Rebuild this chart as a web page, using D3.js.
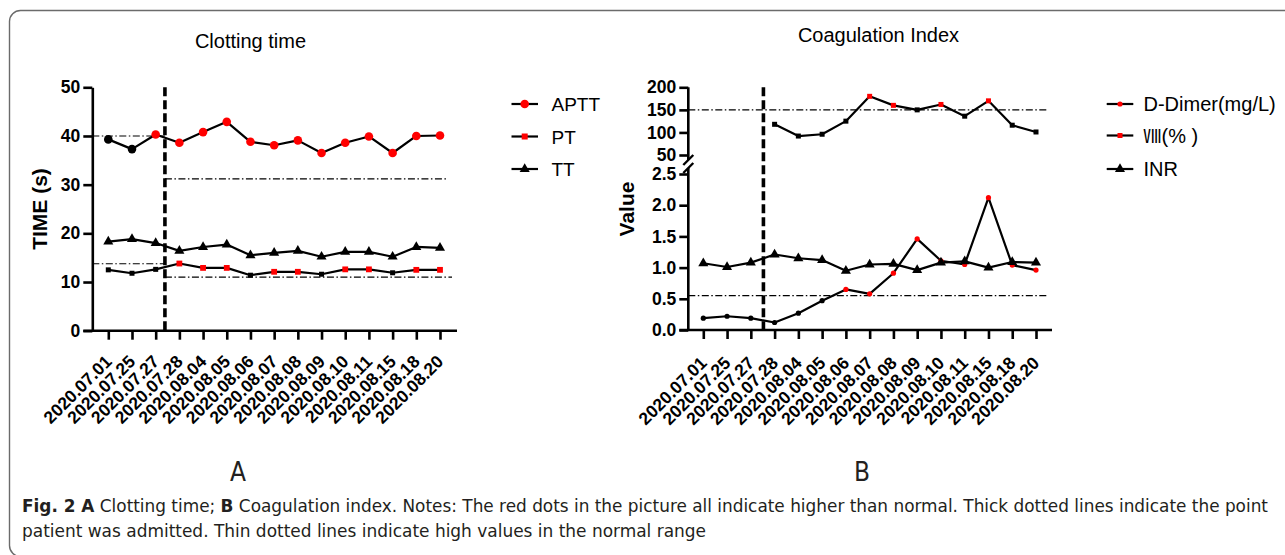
<!DOCTYPE html>
<html><head><meta charset="utf-8">
<script src="https://cdn.jsdelivr.net/npm/d3@7"></script>
<style>body{margin:0;background:#fff;} svg{display:block;}</style>
</head><body><svg id="c" width="1285" height="555"></svg>
<script>
// ---------- data ----------
const dates = ["2020.07.01","2020.07.25","2020.07.27","2020.07.28","2020.08.04","2020.08.05","2020.08.06","2020.08.07","2020.08.08","2020.08.09","2020.08.10","2020.08.11","2020.08.15","2020.08.18","2020.08.20"];
// Panel A
const aptt = [39.3,37.3,40.3,38.6,40.8,42.9,38.8,38.1,39.1,36.5,38.6,39.9,36.5,40.0,40.1];
const apttHigh = [0,0,1,1,1,1,1,1,1,1,1,1,1,1,1];
const pt = [12.5,11.8,12.6,13.8,12.9,12.9,11.4,12.1,12.1,11.6,12.6,12.6,11.9,12.5,12.5];
const ptHigh = [0,0,0,1,1,1,0,1,1,0,1,1,0,1,1];
const tt = [18.3,18.8,18.0,16.4,17.2,17.7,15.5,16.0,16.4,15.2,16.2,16.2,15.2,17.2,17.0];
const ticksA = [0,10,20,30,40,50];
const refA = [
  {v:40.0, part:"before"}, {v:31.2, part:"after"},
  {v:13.75, part:"before"}, {v:11.0, part:"after"}
];
// Panel B
const ddimer = [0.19,0.22,0.19,0.12,0.27,0.47,0.65,0.58,0.91,1.46,1.11,1.05,2.12,1.04,0.96];
const ddimerHigh = [0,0,0,0,0,0,1,1,1,1,1,1,1,1,1];
const viii = [null,null,null,118,92,96,125,180,160,150,162,136,170,116,101];
const viiiHigh = [0,0,0,0,0,0,0,1,1,0,1,0,1,0,0];
const inr = [1.07,1.01,1.08,1.21,1.15,1.12,0.95,1.05,1.06,0.96,1.08,1.10,1.00,1.09,1.08];
const ticksBUpper = [50,100,150,200];
const ticksBLower = [0.0,0.5,1.0,1.5,2.0,2.5];
const refBUpper = 150;
const refBLower = 0.55;
const admitIndexA = 2.39;
const admitIndexB = 2.53;

// ---------- drawing ----------
const svg = d3.select("#c");
const RED = "#ff0000";
const FONT = "'Liberation Sans', Arial, Helvetica, sans-serif";
const COND = "'Liberation Sans Narrow','DejaVu Sans Condensed','Open Sans',sans-serif";

// frame
svg.append("rect").attr("x",9.5).attr("y",10.5).attr("width",1320).attr("height",546)
  .attr("rx",11).attr("fill","none").attr("stroke","#6b6b6b").attr("stroke-width",1.4);

function styleAxis(g){
  g.selectAll("path,line").attr("stroke","#000").attr("stroke-width",2.6);
  g.selectAll("text").attr("font-family",FONT).attr("font-weight","bold").attr("font-size",17.5).attr("fill","#000");
}
function xLabels(g, dx, dy){
  g.selectAll("text").attr("text-anchor","end").attr("x",0).attr("y",0).attr("dy",0)
   .attr("transform",`translate(${dx},${dy}) rotate(-45)`);
}
const tri = d3.symbol().type(d3.symbolTriangle).size(44);

// ===== Panel A =====
{
  const x = d3.scalePoint().domain(dates).range([108.3,440]);
  const y = d3.scaleLinear().domain([0,50]).range([330.7,87.3]);
  const axX0 = 92.3, axXEnd = 457;
  const step = x.step();
  const admitX = x(dates[0]) + admitIndexA*step;

  svg.append("text").attr("x",250.5).attr("y",48).attr("text-anchor","middle")
    .attr("font-family",FONT).attr("font-size",20).text("Clotting time");

  // reference lines
  refA.forEach(r=>{
    const x1 = r.part==="before" ? axX0 : admitX;
    const x2 = r.part==="before" ? admitX : (r.v>20?448:452);
    svg.append("line").attr("x1",x1).attr("x2",x2).attr("y1",y(r.v)).attr("y2",y(r.v))
      .attr("stroke","#000").attr("stroke-width",1.2).attr("stroke-dasharray","7,2.5,1.5,2.5");
  });

  // axes
  const gy = svg.append("g").attr("transform",`translate(${axX0},0)`)
    .call(d3.axisLeft(y).tickValues(ticksA).tickSize(9).tickSizeOuter(0).tickPadding(3));
  styleAxis(gy);
  svg.append("line").attr("x1",axX0-9).attr("x2",axXEnd).attr("y1",y(0)).attr("y2",y(0))
    .attr("stroke","#000").attr("stroke-width",2.6);
  const gx = svg.append("g").attr("transform",`translate(0,${y(0)})`)
    .call(d3.axisBottom(x).tickSize(9).tickSizeOuter(0));
  gx.select(".domain").remove();
  styleAxis(gx);
  xLabels(gx, 4, 32);

  svg.append("text").attr("transform",`translate(47,209) rotate(-90)`).attr("text-anchor","middle")
    .attr("font-family",FONT).attr("font-weight","bold").attr("font-size",21).text("TIME (s)");

  // admission line
  svg.append("line").attr("x1",admitX).attr("x2",admitX).attr("y1",y(50)).attr("y2",y(0))
    .attr("stroke","#000").attr("stroke-width",3.6).attr("stroke-dasharray","9,4");

  const line = d3.line().x((d,i)=>x(dates[i])).y(d=>y(d));
  [aptt,pt,tt].forEach(s=>svg.append("path").attr("d",line(s)).attr("fill","none")
      .attr("stroke","#000").attr("stroke-width",2.2).attr("stroke-linejoin","round"));

  aptt.forEach((v,i)=>svg.append("circle").attr("cx",x(dates[i])).attr("cy",y(v)).attr("r",4.3)
      .attr("fill",apttHigh[i]?RED:"#000"));
  pt.forEach((v,i)=>{const s=ptHigh[i]?5.8:5;
      svg.append("rect").attr("x",x(dates[i])-s/2).attr("y",y(v)-s/2).attr("width",s).attr("height",s)
      .attr("fill",ptHigh[i]?RED:"#000");});
  tt.forEach((v,i)=>svg.append("path").attr("d",tri()).attr("transform",`translate(${x(dates[i])},${y(v)})`).attr("fill","#000"));

  // legend
  const lg = [{t:"APTT",m:"c",y:104},{t:"PT",m:"s",y:136.5},{t:"TT",m:"t",y:169}];
  lg.forEach(l=>{
    svg.append("line").attr("x1",511.5).attr("x2",538).attr("y1",l.y).attr("y2",l.y).attr("stroke","#000").attr("stroke-width",2.2);
    if(l.m==="c") svg.append("circle").attr("cx",524.7).attr("cy",l.y).attr("r",4.3).attr("fill",RED);
    if(l.m==="s") svg.append("rect").attr("x",524.7-3).attr("y",l.y-3).attr("width",6).attr("height",6).attr("fill",RED);
    if(l.m==="t") svg.append("path").attr("d",tri()).attr("transform",`translate(524.7,${l.y})`).attr("fill","#000");
    svg.append("text").attr("x",551.5).attr("y",l.y+7).attr("font-family",FONT).attr("font-size",19).text(l.t);
  });
}

// ===== Panel B =====
{
  const x = d3.scalePoint().domain(dates).range([703.3,1036]);
  const yU = d3.scaleLinear().domain([50,200]).range([155,87.3]);
  const yL = d3.scaleLinear().domain([0,2.5]).range([330,174]);
  const axX0 = 688.3, axXEnd = 1052;
  const step = x.step();
  const admitX = x(dates[0]) + admitIndexB*step;

  svg.append("text").attr("x",878.5).attr("y",41.5).attr("text-anchor","middle")
    .attr("font-family",FONT).attr("font-size",20).text("Coagulation Index");

  [[yU(refBUpper)],[yL(refBLower)]].forEach(([yy])=>
    svg.append("line").attr("x1",axX0).attr("x2",1047).attr("y1",yy).attr("y2",yy)
      .attr("stroke","#000").attr("stroke-width",1.2).attr("stroke-dasharray","7,2.5,1.5,2.5"));

  const gyU = svg.append("g").attr("transform",`translate(${axX0},0)`)
    .call(d3.axisLeft(yU).tickValues(ticksBUpper).tickSize(9).tickSizeOuter(0).tickPadding(3));
  styleAxis(gyU);
  gyU.select(".domain").attr("d",`M0,${yU(200)}V${yU(50)+5}`);
  const gyL = svg.append("g").attr("transform",`translate(${axX0},0)`)
    .call(d3.axisLeft(yL).tickValues(ticksBLower).tickFormat(d3.format(".1f")).tickSize(9).tickSizeOuter(0).tickPadding(3));
  styleAxis(gyL);
  gyL.select(".domain").attr("d",`M0,${yL(2.5)-6}V${yL(0)}`);
  // break marks
  [yU(50)+5, yL(2.5)-6].forEach(yy=>
    svg.append("line").attr("x1",axX0-5).attr("x2",axX0+5).attr("y1",yy+5).attr("y2",yy-5)
      .attr("stroke","#000").attr("stroke-width",2.4));

  svg.append("line").attr("x1",axX0-9).attr("x2",axXEnd).attr("y1",yL(0)).attr("y2",yL(0))
    .attr("stroke","#000").attr("stroke-width",2.6);
  const gx = svg.append("g").attr("transform",`translate(0,${yL(0)})`)
    .call(d3.axisBottom(x).tickSize(9).tickSizeOuter(0));
  gx.select(".domain").remove();
  styleAxis(gx);
  xLabels(gx, 4, 34);

  svg.append("text").attr("transform",`translate(634,209) rotate(-90)`).attr("text-anchor","middle")
    .attr("font-family",FONT).attr("font-weight","bold").attr("font-size",21).text("Value");

  svg.append("line").attr("x1",admitX).attr("x2",admitX).attr("y1",yU(200)).attr("y2",yL(0))
    .attr("stroke","#000").attr("stroke-width",3.6).attr("stroke-dasharray","9,4");

  const lineU = d3.line().defined(d=>d!=null).x((d,i)=>x(dates[i])).y(d=>yU(d));
  const lineL = d3.line().x((d,i)=>x(dates[i])).y(d=>yL(d));
  svg.append("path").attr("d",lineU(viii)).attr("fill","none").attr("stroke","#000").attr("stroke-width",2.2).attr("stroke-linejoin","round");
  [ddimer,inr].forEach(s=>svg.append("path").attr("d",lineL(s)).attr("fill","none")
      .attr("stroke","#000").attr("stroke-width",2.2).attr("stroke-linejoin","round"));

  viii.forEach((v,i)=>{ if(v==null) return; const s=5;
    svg.append("rect").attr("x",x(dates[i])-s/2).attr("y",yU(v)-s/2).attr("width",s).attr("height",s)
      .attr("fill",viiiHigh[i]?RED:"#000");});
  ddimer.forEach((v,i)=>svg.append("circle").attr("cx",x(dates[i])).attr("cy",yL(v)).attr("r",2.6)
      .attr("fill",ddimerHigh[i]?RED:"#000"));
  inr.forEach((v,i)=>svg.append("path").attr("d",tri()).attr("transform",`translate(${x(dates[i])},${yL(v)})`).attr("fill","#000"));

  const lg = [{t:"D-Dimer(mg/L)",m:"c",y:104},{t:"(% )",m:"s",y:135.5},{t:"INR",m:"t",y:169}];
  lg.forEach(l=>{
    svg.append("line").attr("x1",1106.7).attr("x2",1133.3).attr("y1",l.y).attr("y2",l.y).attr("stroke","#000").attr("stroke-width",2.2);
    if(l.m==="c") svg.append("circle").attr("cx",1120).attr("cy",l.y).attr("r",2.6).attr("fill",RED);
    if(l.m==="s") svg.append("rect").attr("x",1117.5).attr("y",l.y-2.5).attr("width",5).attr("height",5).attr("fill",RED);
    if(l.m==="t") svg.append("path").attr("d",tri()).attr("transform",`translate(1120,${l.y})`).attr("fill","#000");
    const t = svg.append("text").attr("x",1143.5).attr("y",l.y+7).attr("font-family",FONT).attr("font-size",20);
    if(l.m==="s"){
      t.append("tspan").attr("font-family","'Noto Sans CJK SC'").attr("font-size",18).text("Ⅷ");
      t.append("tspan").text(l.t);
    } else t.text(l.t);
  });
}

// ---------- panel letters & caption ----------
svg.append("text").attr("x",238).attr("y",481).attr("text-anchor","middle").attr("font-family",COND).attr("font-size",26).attr("fill","#231f20").text("A");
svg.append("text").attr("x",862).attr("y",481).attr("text-anchor","middle").attr("font-family",COND).attr("font-size",26).attr("fill","#231f20").text("B");

const cap1 = svg.append("text").attr("x",22).attr("y",512).attr("font-family",COND).attr("font-size",17).attr("fill","#231f20")
  .attr("textLength",1246).attr("lengthAdjust","spacingAndGlyphs");
cap1.append("tspan").attr("font-weight","bold").text("Fig. 2  A");
cap1.append("tspan").text(" Clotting time; ");
cap1.append("tspan").attr("font-weight","bold").text("B");
cap1.append("tspan").text(" Coagulation index. Notes: The red dots in the picture all indicate higher than normal. Thick dotted lines indicate the point");
svg.append("text").attr("x",22).attr("y",537).attr("font-family",COND).attr("font-size",17).attr("fill","#231f20")
  .attr("textLength",684).attr("lengthAdjust","spacingAndGlyphs")
  .text("patient was admitted. Thin dotted lines indicate high values in the normal range");
</script></body></html>
